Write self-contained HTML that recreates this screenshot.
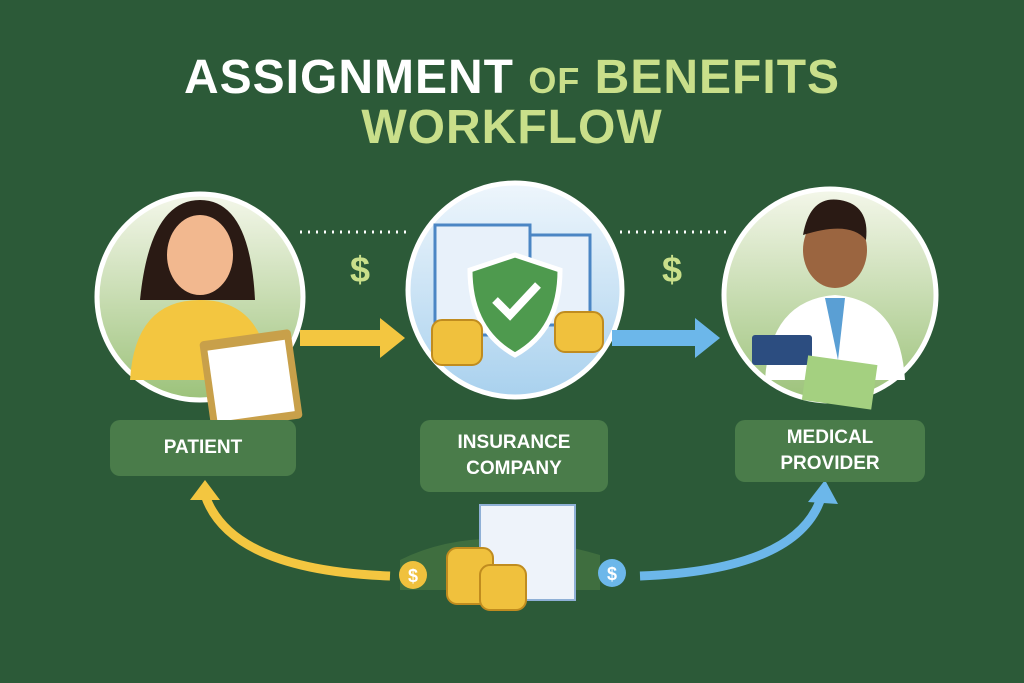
<!DOCTYPE html>
<html><head><style>
body{margin:0;width:1024px;height:683px;background:#2c5a38;overflow:hidden;font-family:"Liberation Sans",sans-serif;position:relative}
.t{position:absolute;width:1024px;text-align:center;font-weight:bold;letter-spacing:1px}
.lbl{position:absolute;background:#4a7c4a;border-radius:10px;color:#fff;font-weight:bold;font-size:19px;text-align:center;display:flex;align-items:center;justify-content:center;line-height:26px}
</style></head><body>
<div class="t" style="top:50px;font-size:48px;color:#fff">ASSIGNMENT <span style="color:#c9df8a;font-size:36px">OF</span> <span style="color:#c9df8a">BENEFITS</span></div>
<div class="t" style="top:100px;font-size:48px;color:#c9df8a">WORKFLOW</div>
<svg width="1024" height="683" style="position:absolute;left:0;top:0">
<defs><linearGradient id="g1" x1="0" y1="0" x2="0" y2="1"><stop offset="0" stop-color="#f4f7ea"/><stop offset="1" stop-color="#9cc27a"/></linearGradient>
<linearGradient id="g2" x1="0" y1="0" x2="0" y2="1"><stop offset="0" stop-color="#eef6fc"/><stop offset="1" stop-color="#a9d1ee"/></linearGradient></defs>
<line x1="300" y1="232" x2="410" y2="232" stroke="#fff" stroke-width="3" stroke-dasharray="2 6"/>
<line x1="620" y1="232" x2="730" y2="232" stroke="#fff" stroke-width="3" stroke-dasharray="2 6"/>
<text x="360" y="282" font-size="36" font-weight="bold" fill="#c9df8a" text-anchor="middle" font-family="Liberation Sans">$</text>
<text x="672" y="282" font-size="36" font-weight="bold" fill="#c9df8a" text-anchor="middle" font-family="Liberation Sans">$</text>
<circle cx="200" cy="297" r="103" fill="url(#g1)" stroke="#fff" stroke-width="5"/>
<circle cx="515" cy="290" r="107" fill="url(#g2)" stroke="#fff" stroke-width="5"/>
<circle cx="830" cy="295" r="106" fill="url(#g1)" stroke="#fff" stroke-width="5"/>
<!-- patient -->
<path d="M140 300 Q150 200 200 200 Q250 200 255 300 Z" fill="#2a1a14"/>
<ellipse cx="200" cy="255" rx="33" ry="40" fill="#f2b88f"/>
<path d="M130 380 Q135 300 200 300 Q265 300 270 380 Z" fill="#f3c640"/>
<rect x="205" y="335" width="92" height="90" rx="4" fill="#c8a04a" transform="rotate(-8 250 380)"/>
<rect x="212" y="345" width="78" height="72" fill="#fff" transform="rotate(-8 250 380)"/>
<!-- insurance -->
<rect x="435" y="225" width="95" height="110" fill="#e8f1fa" stroke="#4b86c4" stroke-width="3"/>
<rect x="530" y="235" width="60" height="90" fill="#e8f1fa" stroke="#4b86c4" stroke-width="3"/>
<path d="M515 255 L560 270 Q560 330 515 355 Q470 330 470 270 Z" fill="#4e9a4e" stroke="#fff" stroke-width="5"/>
<path d="M495 300 L510 315 L538 285" stroke="#fff" stroke-width="8" fill="none"/>
<g fill="#f0c13d" stroke="#c08c1f" stroke-width="2"><rect x="432" y="320" width="50" height="45" rx="10"/><rect x="555" y="312" width="48" height="40" rx="10"/></g>
<!-- provider -->
<ellipse cx="835" cy="250" rx="32" ry="38" fill="#9b6540"/>
<path d="M803 235 Q810 195 840 200 Q870 205 866 240 Q850 220 803 235Z" fill="#2a1a14"/>
<path d="M765 380 Q770 300 835 295 Q900 300 905 380 Z" fill="#fff"/>
<path d="M825 298 L845 298 L838 360 Z" fill="#5a9fd4"/>
<rect x="752" y="335" width="60" height="30" fill="#2c4d80" rx="3"/>
<rect x="805" y="360" width="70" height="45" fill="#a4d080" transform="rotate(8 840 380)"/>
<!-- arrows -->
<path d="M300 330 L380 330 L380 318 L405 338 L380 358 L380 346 L300 346Z" fill="#f3c640"/>
<path d="M612 330 L695 330 L695 318 L720 338 L695 358 L695 346 L612 346Z" fill="#6cb7ea"/>
<path d="M390 576 Q230 570 205 495" stroke="#f3c640" stroke-width="9" fill="none"/>
<path d="M190 500 L205 480 L220 500Z" fill="#f3c640"/>
<path d="M640 576 Q800 570 822 495" stroke="#6cb7ea" stroke-width="9" fill="none"/>
<path d="M808 502 L825 480 L838 504Z" fill="#6cb7ea"/>
<path d="M400 560 Q480 520 600 555 L600 590 L400 590Z" fill="#3f6e3f"/>
<circle cx="413" cy="575" r="14" fill="#f0c13d"/><text x="413" y="582" font-size="18" font-weight="bold" fill="#fff" text-anchor="middle">$</text>
<circle cx="612" cy="573" r="14" fill="#6cb7ea"/><text x="612" y="580" font-size="18" font-weight="bold" fill="#fff" text-anchor="middle">$</text>
<rect x="480" y="505" width="95" height="95" fill="#eef3fa" stroke="#8fb0d6" stroke-width="2"/>
<g fill="#f0c13d" stroke="#c08c1f" stroke-width="2"><rect x="447" y="548" width="46" height="56" rx="10"/><rect x="480" y="565" width="46" height="45" rx="10"/></g>
</svg>
<div class="lbl" style="left:110px;top:420px;width:186px;height:56px">PATIENT</div>
<div class="lbl" style="left:420px;top:420px;width:188px;height:72px">INSURANCE<br>COMPANY</div>
<div class="lbl" style="left:735px;top:420px;width:190px;height:62px">MEDICAL<br>PROVIDER</div>
</body></html>
